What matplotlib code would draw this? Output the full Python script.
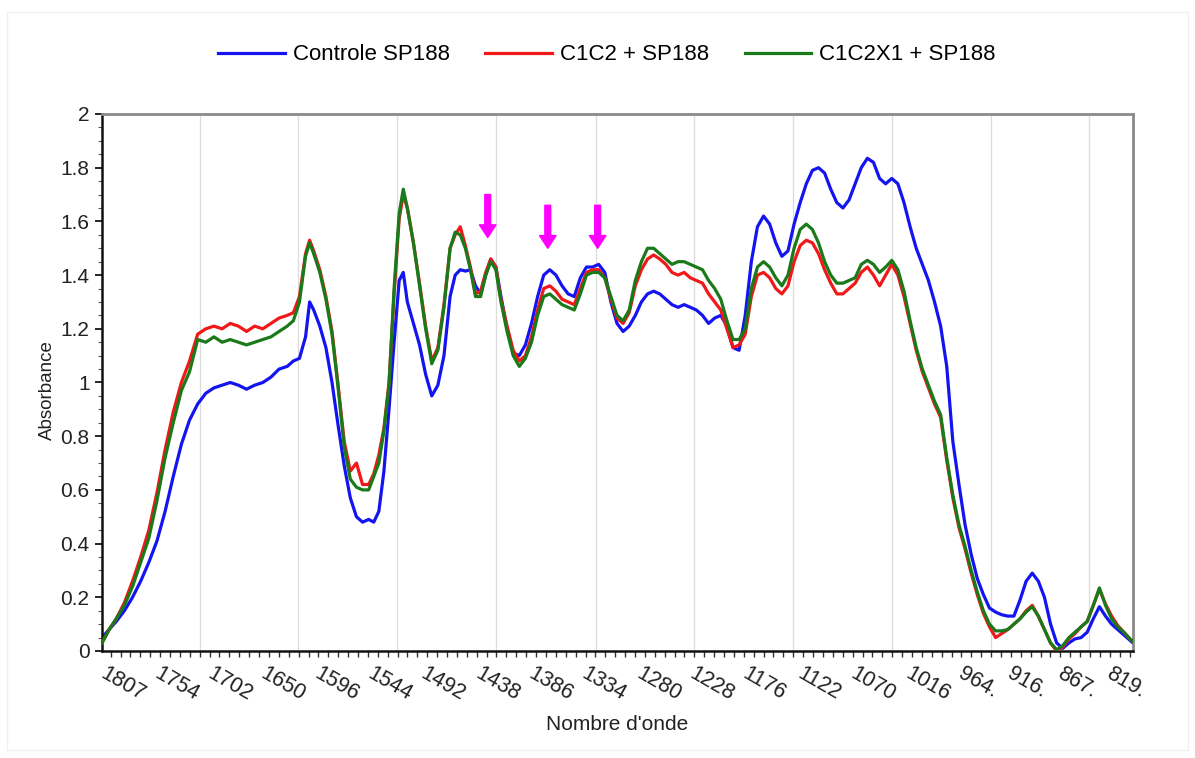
import matplotlib
import numpy as np

matplotlib.use("Agg")
import matplotlib.pyplot as plt  # noqa: E402
from matplotlib.patches import Rectangle  # noqa: E402
from matplotlib.ticker import FixedLocator  # noqa: E402

plt.rcParams["font.family"] = ["Liberation Sans", "DejaVu Sans"]

# Wavenumber grid (cm-1), shared by the three spectra
wavenumber = [
    1812, 1805, 1798, 1790, 1782, 1774, 1766, 1758, 1750, 1742, 1734, 1726, 1718, 1710,
    1702, 1694, 1686, 1678, 1670, 1662, 1654, 1646, 1638, 1630, 1624, 1618, 1612, 1608,
    1604, 1598, 1592, 1586, 1580, 1574, 1568, 1562, 1556, 1550, 1545, 1540, 1535, 1530,
    1525, 1520, 1516, 1512, 1506, 1500, 1494, 1488, 1482, 1476, 1470, 1465, 1460, 1455,
    1450, 1445, 1440, 1435, 1430, 1425, 1420, 1414, 1408, 1402, 1396, 1390, 1384, 1378,
    1372, 1366, 1360, 1354, 1348, 1342, 1336, 1330, 1324, 1318, 1312, 1306, 1300, 1294,
    1288, 1282, 1276, 1270, 1264, 1258, 1252, 1246, 1240, 1234, 1228, 1222, 1216, 1210,
    1204, 1198, 1192, 1186, 1180, 1174, 1168, 1162, 1156, 1150, 1144, 1138, 1132, 1126,
    1120, 1114, 1108, 1102, 1096, 1090, 1084, 1078, 1072, 1066, 1060, 1054, 1048, 1042,
    1036, 1030, 1024, 1018, 1012, 1006, 1000, 994, 988, 982, 976, 970, 964, 958,
    952, 946, 940, 934, 928, 922, 916, 910, 904, 898, 892, 886, 880, 874,
    868, 862, 856, 850, 844, 838, 832, 826, 820, 814, 808, 802, 799,
]

controle = [
    0.05, 0.08, 0.11, 0.15, 0.20, 0.26, 0.33, 0.41, 0.52, 0.65, 0.77, 0.86, 0.92, 0.96,
    0.98, 0.99, 1.00, 0.99, 0.975, 0.99, 1.00, 1.02, 1.05, 1.06, 1.08, 1.09, 1.17, 1.30,
    1.27, 1.21, 1.13, 1.00, 0.84, 0.69, 0.57, 0.50, 0.48, 0.49, 0.48, 0.52, 0.67, 0.90,
    1.15, 1.38, 1.41, 1.30, 1.22, 1.14, 1.03, 0.95, 0.99, 1.10, 1.32, 1.40, 1.42, 1.415,
    1.42, 1.36, 1.33, 1.40, 1.46, 1.43, 1.32, 1.20, 1.11, 1.10, 1.14, 1.22, 1.32, 1.40,
    1.42, 1.40, 1.36, 1.33, 1.32, 1.39, 1.43, 1.43, 1.44, 1.41, 1.30, 1.22, 1.19, 1.21,
    1.25, 1.30, 1.33, 1.34, 1.33, 1.31, 1.29, 1.28, 1.29, 1.28, 1.27, 1.25, 1.22, 1.24,
    1.25, 1.21, 1.13, 1.12, 1.25, 1.45, 1.58, 1.62, 1.59, 1.52, 1.47, 1.49, 1.59, 1.67,
    1.74, 1.79, 1.80, 1.78, 1.72, 1.67, 1.65, 1.68, 1.74, 1.80, 1.835, 1.82, 1.76, 1.74,
    1.76, 1.74, 1.67, 1.58, 1.50, 1.44, 1.38, 1.30, 1.21, 1.06, 0.78, 0.62, 0.47, 0.36,
    0.27, 0.21, 0.16, 0.145, 0.135, 0.13, 0.13, 0.19, 0.26, 0.29, 0.26, 0.20, 0.10, 0.03,
    0.01, 0.03, 0.045, 0.05, 0.07, 0.12, 0.165, 0.13, 0.10, 0.08, 0.06, 0.04, 0.03,
]

c1c2 = [
    0.03, 0.08, 0.12, 0.18, 0.26, 0.35, 0.45, 0.59, 0.75, 0.89, 1.00, 1.08, 1.18, 1.20,
    1.21, 1.20, 1.22, 1.21, 1.19, 1.21, 1.20, 1.22, 1.24, 1.25, 1.26, 1.32, 1.48, 1.53,
    1.49, 1.42, 1.32, 1.19, 0.99, 0.78, 0.67, 0.70, 0.62, 0.62, 0.66, 0.73, 0.83, 1.00,
    1.33, 1.61, 1.70, 1.65, 1.52, 1.37, 1.21, 1.08, 1.13, 1.29, 1.50, 1.55, 1.58, 1.51,
    1.43, 1.33, 1.34, 1.41, 1.46, 1.43, 1.31, 1.21, 1.12, 1.08, 1.10, 1.17, 1.27, 1.35,
    1.36, 1.34, 1.31, 1.30, 1.29, 1.35, 1.41, 1.42, 1.42, 1.39, 1.31, 1.24, 1.22, 1.26,
    1.36, 1.42, 1.46, 1.475, 1.46, 1.44, 1.41, 1.40, 1.41, 1.39, 1.38, 1.37, 1.33, 1.30,
    1.27, 1.20, 1.13, 1.14, 1.18, 1.32, 1.40, 1.41, 1.39, 1.35, 1.33, 1.36, 1.45, 1.51,
    1.53, 1.52, 1.48, 1.42, 1.37, 1.33, 1.33, 1.35, 1.37, 1.41, 1.43, 1.40, 1.36, 1.40,
    1.44, 1.40, 1.32, 1.22, 1.12, 1.04, 0.98, 0.92, 0.87, 0.71, 0.57, 0.46, 0.38, 0.29,
    0.21, 0.14, 0.09, 0.05, 0.065, 0.08, 0.10, 0.12, 0.15, 0.17, 0.13, 0.08, 0.03, 0.0,
    0.015, 0.045, 0.065, 0.09, 0.11, 0.17, 0.23, 0.175, 0.13, 0.095, 0.07, 0.045, 0.035,
]

c1c2x1 = [
    0.03, 0.08, 0.12, 0.17, 0.24, 0.33, 0.42, 0.56, 0.72, 0.85, 0.97, 1.04, 1.16, 1.15,
    1.17, 1.15, 1.16, 1.15, 1.14, 1.15, 1.16, 1.17, 1.19, 1.21, 1.23, 1.30, 1.47, 1.52,
    1.48, 1.41, 1.31, 1.18, 0.98, 0.76, 0.64, 0.61, 0.60, 0.60, 0.65, 0.70, 0.82, 0.99,
    1.35, 1.63, 1.72, 1.65, 1.52, 1.36, 1.20, 1.07, 1.12, 1.28, 1.50, 1.56, 1.55, 1.50,
    1.42, 1.32, 1.32, 1.40, 1.45, 1.42, 1.30, 1.19, 1.10, 1.06, 1.09, 1.15, 1.25, 1.32,
    1.33, 1.31, 1.29, 1.28, 1.27, 1.33, 1.40, 1.41, 1.41, 1.39, 1.32, 1.25, 1.23, 1.27,
    1.38, 1.45, 1.50, 1.50, 1.48, 1.46, 1.44, 1.45, 1.45, 1.44, 1.43, 1.42, 1.38, 1.35,
    1.31, 1.23, 1.16, 1.16, 1.20, 1.35, 1.43, 1.45, 1.43, 1.39, 1.36, 1.40, 1.50, 1.57,
    1.59, 1.57, 1.52, 1.45, 1.40, 1.37, 1.37, 1.38, 1.39, 1.44, 1.455, 1.44, 1.41, 1.43,
    1.455, 1.42, 1.34, 1.23, 1.13, 1.05, 0.99, 0.93, 0.88, 0.72, 0.58, 0.47, 0.39, 0.30,
    0.22, 0.15, 0.10, 0.075, 0.075, 0.08, 0.10, 0.12, 0.145, 0.165, 0.13, 0.08, 0.03, 0.005,
    0.02, 0.05, 0.07, 0.09, 0.11, 0.17, 0.235, 0.17, 0.12, 0.09, 0.07, 0.045, 0.035,
]

tick_values = [1807, 1754, 1702, 1650, 1596, 1544, 1492, 1438, 1386, 1334,
               1280, 1228, 1176, 1122, 1070, 1016, 964, 916, 867, 819]
tick_labels = ["1807", "1754", "1702", "1650", "1596", "1544", "1492", "1438", "1386", "1334",
               "1280", "1228", "1176", "1122", "1070", "1016", "964.", "916.", "867.", "819."]
grid_positions = [1716, 1619, 1522, 1425, 1327, 1230, 1133, 1036, 939, 842]

# Highlighted bands (arrow x, arrow top, arrow tip)
arrow_wn = [1433, 1374, 1325]
arrow_top = [1.70, 1.66, 1.66]
arrow_tip = [1.54, 1.50, 1.50]

fig = plt.figure(figsize=(11.95, 7.58), dpi=100)
fig.patches.append(Rectangle((7 / 1195, 8 / 758), 1181 / 1195, 738 / 758, transform=fig.transFigure,
                             fill=False, edgecolor="#f0f0f0", linewidth=1))
ax = fig.add_axes([102 / 1195, 1 - 651 / 758, 1031 / 1195, 537 / 758])

for g in grid_positions:
    ax.axvline(g, color="#dcdcdc", linewidth=0.9, zorder=0)

ax.plot(wavenumber, controle, color="#1414f0", lw=2.3, label="Controle SP188", zorder=2)
ax.plot(wavenumber, c1c2, color="#f01818", lw=2.3, label="C1C2 + SP188", zorder=3)
ax.plot(wavenumber, c1c2x1, color="#1a7a1a", lw=2.3, label="C1C2X1 + SP188", zorder=4)

for xw, yt, yb in zip(arrow_wn, arrow_top, arrow_tip):
    ax.annotate("", xy=(xw, yb), xytext=(xw, yt),
                arrowprops=dict(arrowstyle="simple,head_length=0.65,head_width=0.85,tail_width=0.3",
                                color="#ff00ff", shrinkA=0, shrinkB=0, mutation_scale=14),
                zorder=5)

ax.set_xlim(1812, 799)
ax.set_ylim(0, 2)

ax.set_xticks(tick_values)
ax.set_xticklabels(tick_labels, rotation=-30, ha="left", va="top", rotation_mode="anchor",
                   fontsize=15.5, color="#222222")
ax.tick_params(axis="x", which="major", length=0, pad=9)
minor_x = np.arange(1716 + 9.72 * 10, 799, -9.72)
ax.xaxis.set_minor_locator(FixedLocator(minor_x))
ax.tick_params(axis="x", which="minor", direction="out", length=4, width=1, color="#333333")

ax.set_yticks(np.arange(0, 2.01, 0.2))
ax.set_yticklabels(["0", "0.2", "0.4", "0.6", "0.8", "1", "1.2", "1.4", "1.6", "1.8", "2"],
                   fontsize=15, color="#222222")
ax.yaxis.set_minor_locator(FixedLocator(np.arange(0, 2.01, 0.05)))
ax.tick_params(axis="y", which="major", direction="out", length=5, width=1.2, pad=4)
ax.tick_params(axis="y", which="minor", direction="out", length=3, width=0.8, color="#555555")

for side in ("left", "bottom"):
    ax.spines[side].set_color("#111111")
    ax.spines[side].set_linewidth(1.8)
for side in ("top", "right"):
    ax.spines[side].set_color("#8a8a8a")
    ax.spines[side].set_linewidth(2)

fig.text(47 / 1195, 1 - 390 / 758, "Absorbance", rotation=90, ha="center", va="center",
         fontsize=13.5, color="#222222")
fig.text(617 / 1195, 1 - 724 / 758, "Nombre d'onde", ha="center", va="center",
         fontsize=15, color="#222222")

fig.legend(loc="center", bbox_to_anchor=(607 / 1195, 1 - 55 / 758), ncol=3, frameon=False,
           fontsize=16, handlelength=3.0, handletextpad=0.35, columnspacing=1.6)

fig.savefig("out.png", dpi=100)
plt.close(fig)
